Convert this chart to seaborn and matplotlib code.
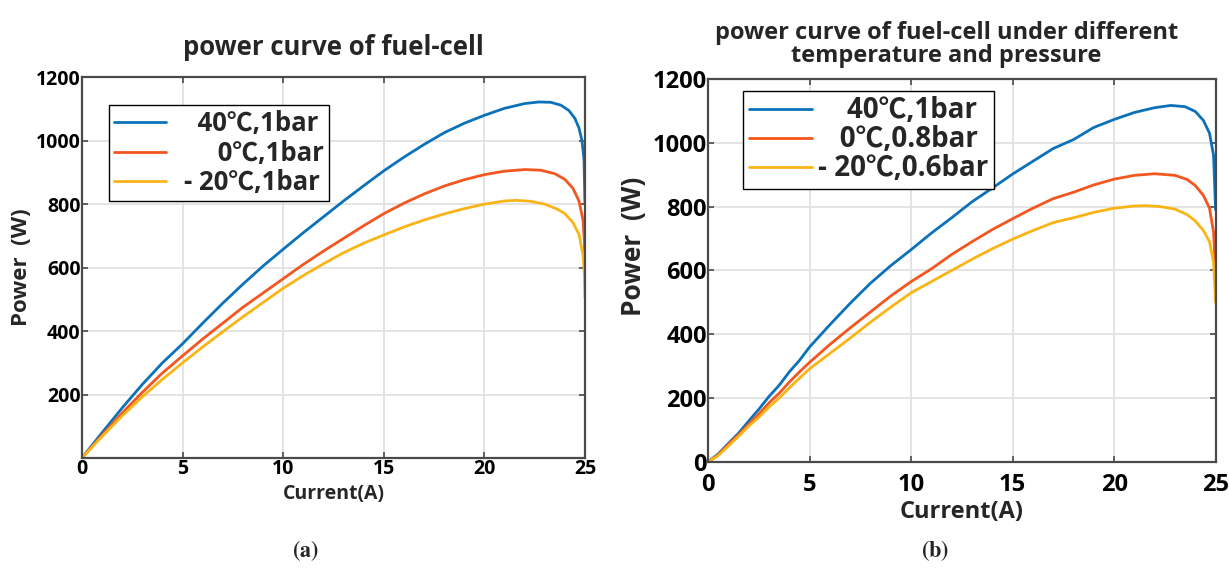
import matplotlib
matplotlib.use("Agg")
import matplotlib.pyplot as plt
import pandas as pd
import seaborn as sns

# ---------------- (a) power curve at 1 bar ----------------
a_cur_40 = [0, 1, 2, 3, 4, 5, 6, 7, 8, 9, 10, 11, 12, 13, 14, 15, 16, 17, 18, 19, 20,
            21, 22, 22.7, 23.3, 23.8, 24.2, 24.5, 24.7, 24.85, 24.95, 25]
a_pow_40 = [0, 80, 158, 232, 300, 360, 425, 488, 548, 605, 658, 710, 760, 810, 858, 905,
            948, 988, 1025, 1055, 1080, 1102, 1117, 1122, 1121, 1112, 1095, 1070, 1040,
            1000, 940, 800]

a_cur_0 = [0, 1, 2, 3, 4, 5, 6, 7, 8, 9, 10, 11, 12, 13, 14, 15, 16, 17, 18, 19, 20,
           21, 22, 22.8, 23.5, 24, 24.4, 24.7, 24.9, 24.97, 25]
a_pow_0 = [0, 72, 142, 207, 268, 322, 375, 425, 475, 520, 565, 610, 652, 692, 732, 770,
           803, 832, 857, 877, 893, 904, 909, 907, 896, 878, 850, 810, 750, 680, 590]

a_cur_m20 = [0, 1, 2, 3, 4, 5, 6, 7, 8, 9, 10, 11, 12, 13, 14, 15, 16, 17, 18, 19, 20,
             21, 21.6, 22.3, 23, 23.6, 24, 24.4, 24.7, 24.9, 24.97, 25]
a_pow_m20 = [0, 68, 133, 193, 248, 300, 350, 398, 445, 490, 535, 575, 612, 647, 677, 703,
             728, 750, 769, 786, 800, 810, 812, 809, 800, 785, 770, 742, 705, 640, 580, 505]

a_labels = ["  40\u2103,1bar", "     0\u2103,1bar", "- 20\u2103,1bar"]

# ---------------- (b) power curve, temperature and pressure ----------------
b_cur_40 = [0, 0.5, 1, 1.5, 2, 2.5, 3, 3.5, 4, 4.5, 5, 6, 7, 8, 9, 10, 11, 12, 13, 14,
            15, 16, 17, 18, 19, 20, 21, 22, 22.8, 23.5, 24, 24.4, 24.7, 24.9, 25]
b_pow_40 = [0, 25, 58, 90, 128, 165, 205, 240, 282, 318, 360, 430, 497, 560, 615, 665,
            717, 765, 815, 858, 902, 942, 982, 1010, 1048, 1073, 1095, 1110, 1117, 1113,
            1098, 1070, 1030, 960, 790]

b_cur_0 = [0, 0.5, 1, 1.5, 2, 2.5, 3, 3.5, 4, 4.5, 5, 6, 7, 8, 9, 10, 11, 12, 13, 14,
           15, 16, 17, 18, 19, 20, 21, 22, 23, 23.6, 24, 24.4, 24.7, 24.9, 25]
b_pow_0 = [0, 22, 55, 85, 118, 150, 185, 215, 250, 282, 312, 368, 420, 470, 520, 565,
           605, 650, 690, 728, 762, 795, 825, 845, 868, 886, 898, 903, 898, 885, 866,
           835, 795, 720, 590]

b_cur_m20 = [0, 0.5, 1, 1.5, 2, 2.5, 3, 3.5, 4, 4.5, 5, 6, 7, 8, 9, 10, 11, 12, 13, 14,
             15, 16, 17, 18, 19, 20, 21, 21.6, 22.3, 23, 23.6, 24, 24.4, 24.7, 24.9, 25]
b_pow_m20 = [0, 20, 50, 80, 112, 140, 172, 200, 232, 262, 292, 340, 388, 438, 485, 530,
             565, 600, 635, 668, 698, 725, 750, 765, 782, 795, 802, 803, 800, 792, 775,
             755, 725, 690, 625, 500]

b_labels = ["    40\u2103,1bar", "   0\u2103,0.8bar", "- 20\u2103,0.6bar"]

line_colors = ["#0B72BA", "#F4561F", "#FBB416"]

x_ticks = [0, 5, 10, 15, 20, 25]
a_y_ticks = [200, 400, 600, 800, 1000, 1200]
b_y_ticks = [0, 200, 400, 600, 800, 1000, 1200]


def frame(curs, pows, labels):
    parts = []
    for c, p, lab in zip(curs, pows, labels):
        parts.append(pd.DataFrame({"Current": c, "Power": p, "case": lab}))
    return pd.concat(parts, ignore_index=True)


df_a = frame([a_cur_40, a_cur_0, a_cur_m20], [a_pow_40, a_pow_0, a_pow_m20], a_labels)
df_b = frame([b_cur_40, b_cur_0, b_cur_m20], [b_pow_40, b_pow_0, b_pow_m20], b_labels)

sns.set_theme(style="whitegrid")
plt.rcParams["font.family"] = ["Open Sans", "Noto Sans CJK SC", "DejaVu Sans"]
plt.rcParams["font.weight"] = "bold"
plt.rcParams["mathtext.fontset"] = "stix"

fig = plt.figure(figsize=(12.29, 5.70), dpi=100)
ax_a = fig.add_axes([0.0667, 0.1965, 0.4093, 0.668])
ax_b = fig.add_axes([0.5761, 0.1895, 0.4130, 0.672])

spine_col = "#4a4a4a"


def style_axes(ax, yticks, tick_size, tick_pad_x, tick_pad_y):
    ax.set_xlim(0, 25)
    ax.set_ylim(0, 1200)
    ax.set_xticks(x_ticks)
    ax.set_yticks(yticks)
    ax.grid(True, color="#e2e2e2", linewidth=1.3)
    for s in ax.spines.values():
        s.set_visible(True)
        s.set_color(spine_col)
        s.set_linewidth(1.6)
    ax.tick_params(axis="both", direction="in", length=4, width=1.2, color=spine_col,
                   top=True, right=True, bottom=True, left=True,
                   labelsize=tick_size, labelcolor="black")
    ax.tick_params(axis="x", pad=tick_pad_x)
    ax.tick_params(axis="y", pad=tick_pad_y)
    for t in ax.get_xticklabels() + ax.get_yticklabels():
        t.set_fontweight("bold")


# (a)
sns.lineplot(data=df_a, x="Current", y="Power", hue="case", palette=line_colors,
             linewidth=2.0, sort=True, estimator=None, ax=ax_a)
style_axes(ax_a, a_y_ticks, 14, 1, 1)
ax_a.set_title("power curve of fuel-cell", fontsize=18.5, fontweight="bold", pad=16)
ax_a.set_xlabel("Current(A)", fontsize=14, fontweight="bold", labelpad=3)
ax_a.set_ylabel("Power  (W)", fontsize=16, fontweight="bold", labelpad=3)
leg_a = ax_a.legend(loc="upper left", bbox_to_anchor=(0.054, 0.927), fontsize=18.5,
                    frameon=True, fancybox=False, framealpha=1, edgecolor="black",
                    handlelength=2.0, handletextpad=0.7, labelspacing=0.1,
                    borderpad=0.2, borderaxespad=0)
leg_a.get_frame().set_linewidth(1.0)
for t in leg_a.get_texts():
    t.set_fontweight("bold")

# (b)
sns.lineplot(data=df_b, x="Current", y="Power", hue="case", palette=line_colors,
             linewidth=2.0, sort=True, estimator=None, ax=ax_b)
style_axes(ax_b, b_y_ticks, 17, 8, 1)
ax_b.set_title("power curve of fuel-cell under different\ntemperature and pressure",
               fontsize=17, fontweight="bold", pad=12, x=0.47, linespacing=0.95)
ax_b.set_xlabel("Current(A)", fontsize=17, fontweight="bold", labelpad=2)
ax_b.set_ylabel("Power  (W)", fontsize=19, fontweight="bold")
ax_b.yaxis.set_label_coords(-0.12, 0.564)
leg_b = ax_b.legend(loc="upper left", bbox_to_anchor=(0.069, 0.969), fontsize=20,
                    frameon=True, fancybox=False, framealpha=1, edgecolor="black",
                    handlelength=2.3, handletextpad=0.2, labelspacing=0.0,
                    borderpad=0.2, borderaxespad=0)
leg_b.get_frame().set_linewidth(1.0)
for t in leg_b.get_texts():
    t.set_fontweight("bold")

# sub-figure captions
fig.text(305 / 1229, 1 - 551 / 570, r"$(\mathbf{a})$", fontsize=16, ha="center", va="center")
fig.text(935 / 1229, 1 - 551 / 570, r"$(\mathbf{b})$", fontsize=16, ha="center", va="center")

fig.savefig("out.png", dpi=100)
